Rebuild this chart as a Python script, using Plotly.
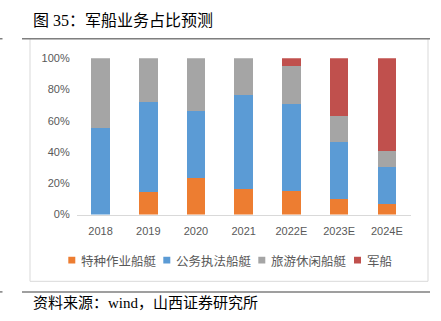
import plotly.graph_objects as go

categories = ["2018", "2019", "2020", "2021", "2022E", "2023E", "2024E"]
series_names = ["特种作业船艇", "公务执法船艇", "旅游休闲船艇", "军船"]
special = [0, 14.4, 23.7, 16.3, 15.0, 10.1, 6.6]
official = [55.3, 57.5, 42.5, 59.9, 55.5, 36.5, 23.6]
leisure = [44.7, 28.1, 33.8, 23.8, 24.4, 16.5, 10.7]
military = [0, 0, 0, 0, 5.1, 36.9, 59.1]
y_ticks = [0, 20, 40, 60, 80, 100]
colors = ["#ED7D31", "#5B9BD5", "#A5A5A5", "#C0504D"]

W, H = 441, 321
def px(x):
    return x / W
def py(y):
    return 1 - y / H

fig = go.Figure()
for name, vals, c in zip(series_names, [special, official, leisure, military], colors):
    fig.add_trace(go.Bar(x=categories, y=vals, name=name, marker=dict(color=c, line=dict(width=0))))

tick_font = dict(family="Liberation Sans, Noto Sans CJK SC", size=11, color="#595959")
fig.update_layout(
    width=W, height=H, barmode="stack", bargap=0.61,
    margin=dict(l=0, r=0, t=0, b=0),
    paper_bgcolor="white", plot_bgcolor="white", showlegend=False,
    xaxis=dict(domain=[px(76.7), px(410.7)], showline=True, linecolor="#D9D9D9", linewidth=1,
               ticks="", tickfont=tick_font, ticklabelstandoff=6),
    yaxis=dict(domain=[py(216.7), py(54.3)], range=[0, 100], tickvals=y_ticks,
               ticktext=[f"{v}%" for v in y_ticks], showgrid=False, zeroline=False,
               showline=False, tickfont=tick_font, ticklabelstandoff=6),
)

shapes = []
# chart frame
shapes.append(dict(type="rect", xref="paper", yref="paper", x0=px(30), x1=px(428), y0=py(286), y1=py(34),
                   line=dict(color="#D9D9D9", width=1)))
# header/footer rules
for yy in (34, 297):
    shapes.append(dict(type="line", xref="paper", yref="paper", x0=px(22), x1=px(430), y0=py(yy), y1=py(yy),
                       line=dict(color="#7F7F7F", width=1.5)))
    shapes.append(dict(type="line", xref="paper", yref="paper", x0=px(0), x1=px(2.5), y0=py(yy), y1=py(yy),
                       line=dict(color="#7F7F7F", width=1.5)))

annotations = []
leg_sq_x = [68.3, 163.3, 258.3, 354]
leg_y = 264
for name, c, x0 in zip(series_names, colors, leg_sq_x):
    shapes.append(dict(type="rect", xref="paper", yref="paper", x0=px(x0), x1=px(x0 + 7),
                       y0=py(leg_y + 3.5), y1=py(leg_y - 3.5), fillcolor=c, line=dict(width=0)))
    annotations.append(dict(text=name, xref="paper", yref="paper", x=px(x0 + 10.5), y=py(leg_y),
                            xanchor="left", yanchor="middle", showarrow=False,
                            font=dict(family="Noto Sans CJK SC", size=12.5, color="#595959")))

annotations.append(dict(text="图 35：军船业务占比预测", xref="paper", yref="paper", x=px(31), y=py(15),
                        xanchor="left", yanchor="middle", showarrow=False,
                        font=dict(family="Liberation Serif, Noto Sans CJK SC", size=16, color="black")))
annotations.append(dict(text="资料来源：wind，山西证券研究所", xref="paper", yref="paper", x=px(31), y=py(309),
                        xanchor="left", yanchor="middle", showarrow=False,
                        font=dict(family="Liberation Serif, Noto Sans CJK SC", size=15, color="black")))

fig.update_layout(shapes=shapes, annotations=annotations)
fig.write_html("out.html")
